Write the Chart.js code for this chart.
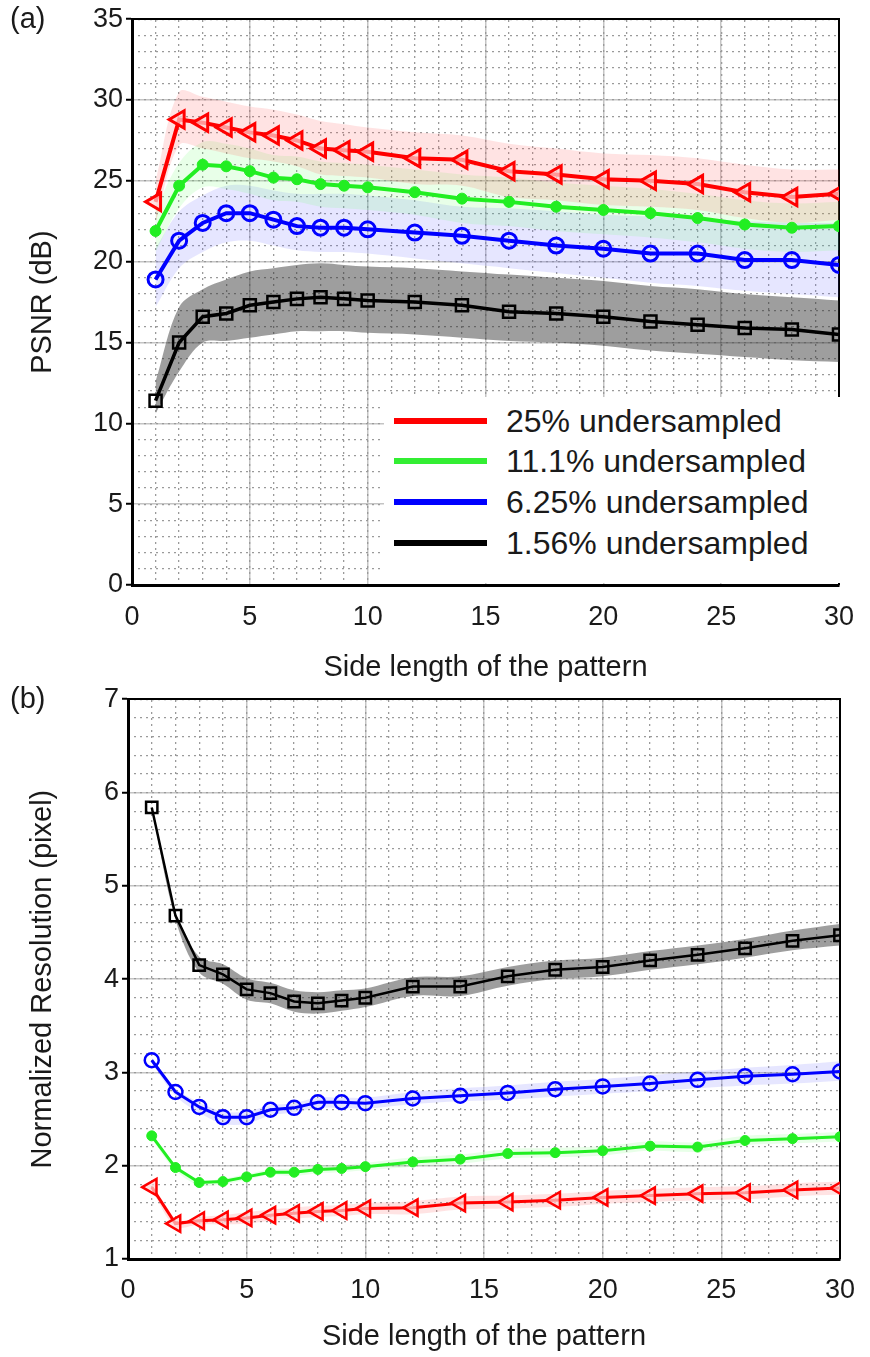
<!DOCTYPE html>
<html>
<head>
<meta charset="utf-8">
<script src="https://cdn.jsdelivr.net/npm/chart.js@4.4.0/dist/chart.umd.min.js"></script>
<style>
  body { margin: 0; background: #fff; width: 870px; height: 1357px; position: relative; overflow: hidden;
         font-family: "Liberation Sans", Arial, sans-serif; color: #1a1a1a; }
  canvas { position: absolute; left: 0; }
  #chartA { top: 0; }
  #chartB { top: 680px; }
  .tag { position: absolute; left: 10px; font-size: 29px; line-height: 1; }
  .legend { position: absolute; left: 384px; top: 397px; width: 459px; height: 186px; background: #fff; }
  .row { position: absolute; left: 0; height: 40px; width: 459px; }
  .row .swatch { position: absolute; left: 10px; top: 17px; width: 93px; height: 6px; }
  .row .txt { position: absolute; left: 122px; top: 0; font-size: 32px; line-height: 40px; white-space: nowrap; }
</style>
</head>
<body>
<canvas id="chartA" width="870" height="700"></canvas>
<canvas id="chartB" width="870" height="677"></canvas>
<div class="tag" style="top:4px">(a)</div>
<div class="tag" style="top:684px">(b)</div>
<div class="legend">
  <div class="row" style="top:4px"><span class="swatch" style="background:#ff0000"></span><span class="txt">25% undersampled</span></div>
  <div class="row" style="top:44px"><span class="swatch" style="background:#33ee33"></span><span class="txt">11.1% undersampled</span></div>
  <div class="row" style="top:85px"><span class="swatch" style="background:#0000ff"></span><span class="txt">6.25% undersampled</span></div>
  <div class="row" style="top:126px"><span class="swatch" style="background:#000000"></span><span class="txt">1.56% undersampled</span></div>
</div>
<script>
Chart.defaults.font.family = '"Liberation Sans", Arial, sans-serif'
Chart.defaults.color = '#1a1a1a'

const sideLength = [1, 2, 3, 4, 5, 6, 7, 8, 9, 10, 12, 14, 16, 18, 20, 22, 24, 26, 28, 30]

// (a) PSNR in dB
const psnr25 = [23.7, 28.8, 28.6, 28.3, 28.0, 27.8, 27.5, 27.0, 26.9, 26.8, 26.4, 26.3, 25.6, 25.4, 25.1, 25.0, 24.8, 24.3, 24.0, 24.2]
const psnr25Hi = [25.0, 30.5, 30.2, 29.9, 29.6, 29.4, 29.1, 28.7, 28.5, 28.3, 28.0, 27.8, 27.3, 27.0, 26.7, 26.6, 26.4, 26.0, 25.7, 25.7]
const psnr25Lo = [22.4, 27.2, 27.0, 26.7, 26.4, 26.2, 25.9, 25.4, 25.3, 25.2, 24.8, 24.7, 24.0, 23.8, 23.5, 23.4, 23.2, 22.7, 22.4, 22.6]
const psnr11 = [21.9, 24.7, 26.0, 25.9, 25.6, 25.2, 25.1, 24.8, 24.7, 24.6, 24.3, 23.9, 23.7, 23.4, 23.2, 23.0, 22.7, 22.3, 22.1, 22.2]
const psnr11Hi = [23.2, 26.1, 27.4, 27.3, 27.0, 26.6, 26.5, 26.2, 26.1, 26.0, 25.7, 25.4, 25.2, 24.9, 24.7, 24.5, 24.2, 23.8, 23.6, 23.7]
const psnr11Lo = [20.6, 23.3, 24.6, 24.5, 24.2, 23.8, 23.7, 23.4, 23.3, 23.2, 22.9, 22.4, 22.2, 21.9, 21.7, 21.5, 21.2, 20.8, 20.6, 20.7]
const psnr6 = [18.9, 21.3, 22.4, 23.0, 23.0, 22.6, 22.2, 22.1, 22.1, 22.0, 21.8, 21.6, 21.3, 21.0, 20.8, 20.5, 20.5, 20.1, 20.1, 19.8]
const psnr6Hi = [20.8, 23.1, 24.1, 24.7, 24.7, 24.4, 24.2, 24.2, 24.2, 24.1, 23.8, 23.4, 23.3, 23.1, 22.9, 22.8, 22.7, 22.5, 22.4, 22.4]
const psnr6Lo = [17.2, 19.6, 20.6, 21.2, 21.3, 21.0, 20.7, 20.6, 20.6, 20.5, 20.2, 19.9, 19.6, 19.3, 19.0, 18.7, 18.5, 18.2, 18.0, 17.8]
const psnr1 = [11.4, 15.0, 16.6, 16.8, 17.3, 17.5, 17.7, 17.8, 17.7, 17.6, 17.5, 17.3, 16.9, 16.8, 16.6, 16.3, 16.1, 15.9, 15.8, 15.5]
const psnr1Hi = [12.6, 17.2, 18.3, 18.9, 19.4, 19.6, 19.8, 19.9, 19.8, 19.7, 19.6, 19.4, 19.2, 19.0, 18.8, 18.5, 18.3, 18.0, 17.8, 17.6]
const psnr1Lo = [10.6, 13.2, 15.0, 15.1, 15.3, 15.5, 15.7, 15.7, 15.7, 15.6, 15.5, 15.3, 15.1, 15.0, 14.8, 14.5, 14.3, 14.1, 13.9, 13.8]

// (b) normalized resolution in pixels
const res25 = [1.77, 1.38, 1.41, 1.42, 1.44, 1.47, 1.49, 1.51, 1.52, 1.54, 1.55, 1.60, 1.61, 1.63, 1.66, 1.68, 1.70, 1.71, 1.74, 1.76]
const res25Hi = [1.80, 1.41, 1.45, 1.47, 1.50, 1.53, 1.55, 1.57, 1.58, 1.60, 1.62, 1.67, 1.68, 1.70, 1.73, 1.75, 1.77, 1.78, 1.81, 1.83]
const res25Lo = [1.74, 1.35, 1.37, 1.37, 1.38, 1.41, 1.43, 1.45, 1.46, 1.48, 1.48, 1.53, 1.54, 1.56, 1.59, 1.61, 1.63, 1.64, 1.67, 1.69]
const res11 = [2.32, 1.98, 1.82, 1.83, 1.88, 1.93, 1.93, 1.96, 1.97, 1.99, 2.04, 2.07, 2.13, 2.14, 2.16, 2.21, 2.20, 2.27, 2.29, 2.31]
const res11Hi = [2.35, 2.01, 1.85, 1.86, 1.91, 1.96, 1.97, 2.00, 2.01, 2.03, 2.09, 2.12, 2.18, 2.19, 2.21, 2.26, 2.25, 2.32, 2.34, 2.36]
const res11Lo = [2.29, 1.95, 1.79, 1.80, 1.85, 1.90, 1.89, 1.92, 1.93, 1.95, 1.99, 2.02, 2.08, 2.09, 2.11, 2.16, 2.15, 2.22, 2.24, 2.26]
const res6 = [3.13, 2.79, 2.63, 2.52, 2.52, 2.60, 2.62, 2.68, 2.68, 2.67, 2.72, 2.75, 2.78, 2.82, 2.85, 2.88, 2.92, 2.96, 2.98, 3.01]
const res6Hi = [3.16, 2.83, 2.68, 2.58, 2.58, 2.65, 2.67, 2.73, 2.73, 2.73, 2.79, 2.83, 2.86, 2.90, 2.93, 2.97, 3.01, 3.05, 3.08, 3.12]
const res6Lo = [3.10, 2.75, 2.57, 2.45, 2.45, 2.54, 2.57, 2.62, 2.62, 2.61, 2.66, 2.69, 2.71, 2.74, 2.77, 2.80, 2.83, 2.86, 2.88, 2.91]
const res1 = [5.84, 4.68, 4.15, 4.05, 3.89, 3.85, 3.76, 3.74, 3.77, 3.80, 3.92, 3.92, 4.03, 4.10, 4.13, 4.20, 4.26, 4.33, 4.41, 4.47]
const res1Hi = [5.86, 4.72, 4.24, 4.16, 4.01, 3.96, 3.88, 3.86, 3.88, 3.90, 4.02, 4.03, 4.13, 4.20, 4.23, 4.30, 4.36, 4.43, 4.52, 4.59]
const res1Lo = [5.82, 4.64, 4.07, 3.95, 3.78, 3.74, 3.65, 3.63, 3.66, 3.70, 3.82, 3.82, 3.93, 4.00, 4.03, 4.10, 4.16, 4.23, 4.31, 4.36]

const RED = '#ff0000', GREEN = '#22ee22', BLUE = '#0000ff', BLACK = '#000000'

function points(ys) {
    return sideLength.map((x, i) => ({ x: x, y: ys[i] }))
}

// line + markers for one sampling ratio
function lineSet(ys, color, marker) {
    return {
        data: points(ys),
        borderColor: color,
        borderWidth: marker.lw,
        pointStyle: marker.shape,
        pointRadius: marker.r,
        pointRotation: marker.rot || 0,
        pointBorderWidth: marker.pw,
        pointBorderColor: color,
        pointBackgroundColor: marker.fill,
        fill: false,
        tension: 0,
        order: 1
    }
}

// shaded band: upper edge filled down to the next dataset (lower edge)
function bandSets(hi, lo, color) {
    const edge = { borderWidth: 0, pointRadius: 0, tension: 0.35, order: 5 }
    return [
        Object.assign({ data: points(hi), fill: '+1', backgroundColor: color }, edge),
        Object.assign({ data: points(lo), fill: false }, edge)
    ]
}

function buildChart(canvasId, datasets, yCfg, sizes) {
    return new Chart(document.getElementById(canvasId), {
        type: 'line',
        data: { datasets: datasets },
        options: {
            responsive: false,
            animation: false,
            devicePixelRatio: 1,
            layout: { padding: { top: sizes.top, right: sizes.right, left: 0, bottom: 0 } },
            plugins: { legend: { display: false }, tooltip: { enabled: false } },
            scales: {
                x: {
                    type: 'linear', position: 'bottom', min: 0, max: 30,
                    ticks: { stepSize: 5, font: { size: 27 }, padding: sizes.xTickPad, maxRotation: 0 },
                    grid: { color: '#c4c4c4', lineWidth: 1.5, drawTicks: false },
                    border: { color: '#000', width: 3 },
                    title: { display: true, text: 'Side length of the pattern', font: { size: 29 },
                             padding: { top: 0, bottom: sizes.xTitlePad } },
                    afterFit: s => { s.height = sizes.xHeight }
                },
                xMinor: {
                    type: 'linear', position: 'top', min: 0, max: 30,
                    ticks: { display: false, stepSize: 1 },
                    grid: { color: '#9a9a9a', lineWidth: 1.3, drawTicks: false },
                    border: { color: '#000', width: 2, dash: [2, 4] },
                    afterFit: s => { s.height = 0 }
                },
                y: {
                    type: 'linear', position: 'left', min: yCfg.min, max: yCfg.max,
                    ticks: { stepSize: yCfg.step, font: { size: 27 }, padding: 3 },
                    grid: { color: '#c4c4c4', lineWidth: 1.5, tickLength: 6, tickColor: '#000', tickWidth: 2 },
                    border: { color: '#000', width: 3 },
                    title: { display: true, text: yCfg.title, font: { size: 29 }, padding: { top: sizes.yTitlePad } },
                    afterFit: s => { s.width = sizes.yWidth }
                },
                yMinor: {
                    type: 'linear', position: 'right', min: yCfg.min, max: yCfg.max,
                    ticks: { display: false, stepSize: yCfg.minorStep },
                    grid: { color: '#9a9a9a', lineWidth: 1.3, drawTicks: false },
                    border: { color: '#000', width: 2, dash: [2, 4] },
                    afterFit: s => { s.width = 0 }
                }
            }
        }
    })
}

const bigMarkers = {
    red: { shape: 'triangle', r: 10, rot: -90, lw: 4, pw: 3, fill: 'rgba(255,215,215,0.7)' },
    green: { shape: 'circle', r: 5.5, lw: 4, pw: 1, fill: GREEN },
    blue: { shape: 'circle', r: 7.5, lw: 4, pw: 3, fill: 'rgba(0,0,0,0)' },
    black: { shape: 'rect', r: 8.5, lw: 3.5, pw: 2.5, fill: 'rgba(0,0,0,0)' }
}
const smallMarkers = {
    red: { shape: 'triangle', r: 9.5, rot: -90, lw: 3, pw: 2.5, fill: 'rgba(255,215,215,0.7)' },
    green: { shape: 'circle', r: 5, lw: 3, pw: 1, fill: GREEN },
    blue: { shape: 'circle', r: 7, lw: 3, pw: 2.5, fill: 'rgba(0,0,0,0)' },
    black: { shape: 'rect', r: 8, lw: 2.5, pw: 2.5, fill: 'rgba(0,0,0,0)' }
}

buildChart('chartA', [
    ...bandSets(psnr25Hi, psnr25Lo, 'rgba(255,80,80,0.16)'),
    ...bandSets(psnr11Hi, psnr11Lo, 'rgba(90,255,90,0.14)'),
    ...bandSets(psnr6Hi, psnr6Lo, 'rgba(90,90,255,0.15)'),
    ...bandSets(psnr1Hi, psnr1Lo, 'rgba(40,40,40,0.45)'),
    lineSet(psnr25, RED, bigMarkers.red),
    lineSet(psnr11, GREEN, bigMarkers.green),
    lineSet(psnr6, BLUE, bigMarkers.blue),
    lineSet(psnr1, BLACK, bigMarkers.black)
], { min: 0, max: 35, step: 5, minorStep: 1, title: 'PSNR (dB)' },
   { top: 18, right: 25, yWidth: 132, xHeight: 115, xTickPad: 16, xTitlePad: 15, yTitlePad: 26 })

buildChart('chartB', [
    ...bandSets(res25Hi, res25Lo, 'rgba(255,80,80,0.16)'),
    ...bandSets(res11Hi, res11Lo, 'rgba(90,255,90,0.14)'),
    ...bandSets(res6Hi, res6Lo, 'rgba(90,90,255,0.15)'),
    ...bandSets(res1Hi, res1Lo, 'rgba(40,40,40,0.45)'),
    lineSet(res25, RED, smallMarkers.red),
    lineSet(res11, GREEN, smallMarkers.green),
    lineSet(res6, BLUE, smallMarkers.blue),
    lineSet(res1, BLACK, smallMarkers.black)
], { min: 1, max: 7, step: 1, minorStep: 0.2, title: 'Normalized Resolution (pixel)' },
   { top: 16, right: 25, yWidth: 128, xHeight: 98, xTickPad: 15, xTitlePad: 3, yTitlePad: 26 })
</script>
</body>
</html>
